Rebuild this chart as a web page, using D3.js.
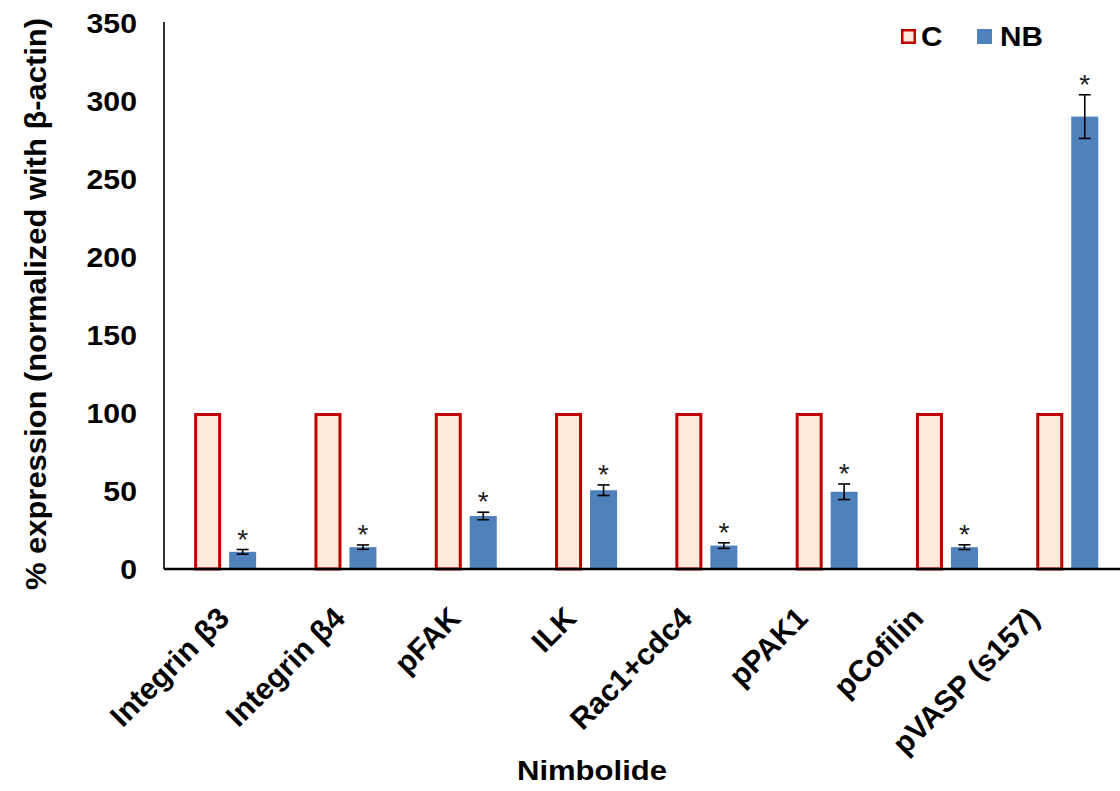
<!DOCTYPE html>
<html>
<head>
<meta charset="utf-8">
<script src="https://cdn.jsdelivr.net/npm/d3@7"></script>
<style>
  html, body { margin: 0; padding: 0; background: #fff; }
  svg { display: block; font-family: "Liberation Sans", Arial, sans-serif; }
</style>
</head>
<body>
<svg id="chart" width="1120" height="791"></svg>
<script>
// Protein expression after Nimbolide treatment, normalized to beta-actin
const categories = ["Integrin β3", "Integrin β4", "pFAK", "ILK", "Rac1+cdc4", "pPAK1", "pCofilin", "pVASP (s157)"];
const controlValues = [100, 100, 100, 100, 100, 100, 100, 100];
const nbValues = [11, 14, 34, 50.5, 15, 49.5, 14, 290];
const nbErrors = [1.5, 1.4, 2.4, 3.4, 1.8, 5, 1.5, 14];
const significant = [true, true, true, true, true, true, true, true];
const yTicks = [0, 50, 100, 150, 200, 250, 300, 350];
const seriesNames = ["C", "NB"];

const svg = d3.select("#chart");
const plotLeft = 165, plotBottom = 569, plotTop = 23;
const band = 120.3;

const x = d3.scaleBand()
  .domain(categories)
  .range([plotLeft, plotLeft + band * categories.length])
  .paddingInner(0).paddingOuter(0);

// Rotated category labels sit on a slightly tighter spacing than the bars
const xLabel = d3.scalePoint().domain(categories).range([231, 1041]);

const y = d3.scaleLinear().domain([0, 350]).range([plotBottom, plotTop]);

const barW = 27, innerGap = 4;

// Control bars (outlined)
svg.append("g").selectAll("rect")
  .data(categories)
  .join("rect")
  .attr("x", d => x(d) + x.bandwidth() / 2 - innerGap - barW + 1.5)
  .attr("width", barW - 3)
  .attr("y", (d, i) => y(controlValues[i]) + 1.5)
  .attr("height", (d, i) => y(0) - y(controlValues[i]) - 1.5)
  .attr("fill", "#FDEADA")
  .attr("stroke", "#C00000")
  .attr("stroke-width", 3);

// Nimbolide bars
svg.append("g").selectAll("rect")
  .data(categories)
  .join("rect")
  .attr("x", d => x(d) + x.bandwidth() / 2 + innerGap)
  .attr("width", barW)
  .attr("y", (d, i) => y(nbValues[i]))
  .attr("height", (d, i) => y(0) - y(nbValues[i]))
  .attr("fill", "#4F81BD");

// Error bars on Nimbolide bars
const eg = svg.append("g").attr("stroke", "#000").attr("stroke-width", 1.6);
categories.forEach((c, i) => {
  const cx = x(c) + x.bandwidth() / 2 + innerGap + barW / 2;
  const hi = y(nbValues[i] + nbErrors[i]);
  const lo = y(nbValues[i] - nbErrors[i]);
  eg.append("line").attr("x1", cx).attr("x2", cx).attr("y1", hi).attr("y2", lo);
  eg.append("line").attr("x1", cx - 6).attr("x2", cx + 6).attr("y1", hi).attr("y2", hi);
  eg.append("line").attr("x1", cx - 6).attr("x2", cx + 6).attr("y1", lo).attr("y2", lo);
  if (significant[i]) {
    svg.append("text")
      .attr("x", cx)
      .attr("y", hi - 1)
      .attr("text-anchor", "middle")
      .attr("font-size", 28)
      .attr("fill", "#222")
      .text("*");
  }
});

// Y axis
const yAxis = d3.axisLeft(y).tickValues(yTicks).tickSize(0).tickPadding(0);
const yg = svg.append("g").attr("transform", `translate(${plotLeft - 1},0)`).call(yAxis);
yg.select(".domain").attr("stroke", "#000").attr("stroke-width", 1.6).attr("d", `M0,${plotTop - 1}V${plotBottom}`);
yg.selectAll(".tick text")
  .attr("font-size", 27)
  .attr("font-weight", "bold")
  .attr("font-family", "Liberation Sans, Arial, sans-serif")
  .attr("fill", "#000")
  .attr("x", 0)
  .attr("dy", "0.36em")
  .attr("text-anchor", "end")
  .attr("transform", "translate(-27,0) scale(1.12,1)");

// X axis line
const xAxis = d3.axisBottom(x).tickSize(0).tickFormat(() => "");
const xg = svg.append("g").attr("transform", `translate(0,${plotBottom})`).call(xAxis);
xg.select(".domain").attr("stroke", "#000").attr("stroke-width", 2.6).attr("d", `M${plotLeft - 1},0H1120`);

// Category labels, rotated 45 degrees
svg.append("g").selectAll("text")
  .data(categories)
  .join("text")
  .attr("font-size", 30)
  .attr("font-weight", "bold")
  .attr("fill", "#000")
  .attr("text-anchor", "end")
  .attr("transform", d => `translate(${xLabel(d)},${plotBottom + 51}) rotate(-45)`)
  .text(d => d);

// Axis titles
svg.append("text")
  .attr("transform", "translate(46,304) rotate(-90)")
  .attr("text-anchor", "middle")
  .attr("font-size", 30)
  .attr("font-weight", "bold")
  .attr("textLength", 572)
  .attr("lengthAdjust", "spacingAndGlyphs")
  .text("% expression (normalized with β-actin)");

svg.append("text")
  .attr("x", 592)
  .attr("y", 780)
  .attr("text-anchor", "middle")
  .attr("font-size", 28)
  .attr("font-weight", "bold")
  .attr("textLength", 150)
  .attr("lengthAdjust", "spacingAndGlyphs")
  .text("Nimbolide");

// Legend
const legend = svg.append("g");
const legendItems = [
  { name: seriesNames[0], sx: 901, tx: 921, fill: "#FDEADA", stroke: "#C00000", sw: 2.5 },
  { name: seriesNames[1], sx: 977, tx: 1000, fill: "#4F81BD", stroke: "none", sw: 0 }
];
legendItems.forEach(it => {
  legend.append("rect")
    .attr("x", it.sx + it.sw / 2).attr("y", 29 + it.sw / 2)
    .attr("width", 15 - it.sw).attr("height", 15 - it.sw)
    .attr("fill", it.fill).attr("stroke", it.stroke).attr("stroke-width", it.sw);
  legend.append("text")
    .attr("x", it.tx).attr("y", 46)
    .attr("font-size", 27).attr("font-weight", "bold")
    .attr("transform", `translate(${it.tx * -0.1},0) scale(1.1,1)`)
    .text(it.name);
});
</script>
</body>
</html>
